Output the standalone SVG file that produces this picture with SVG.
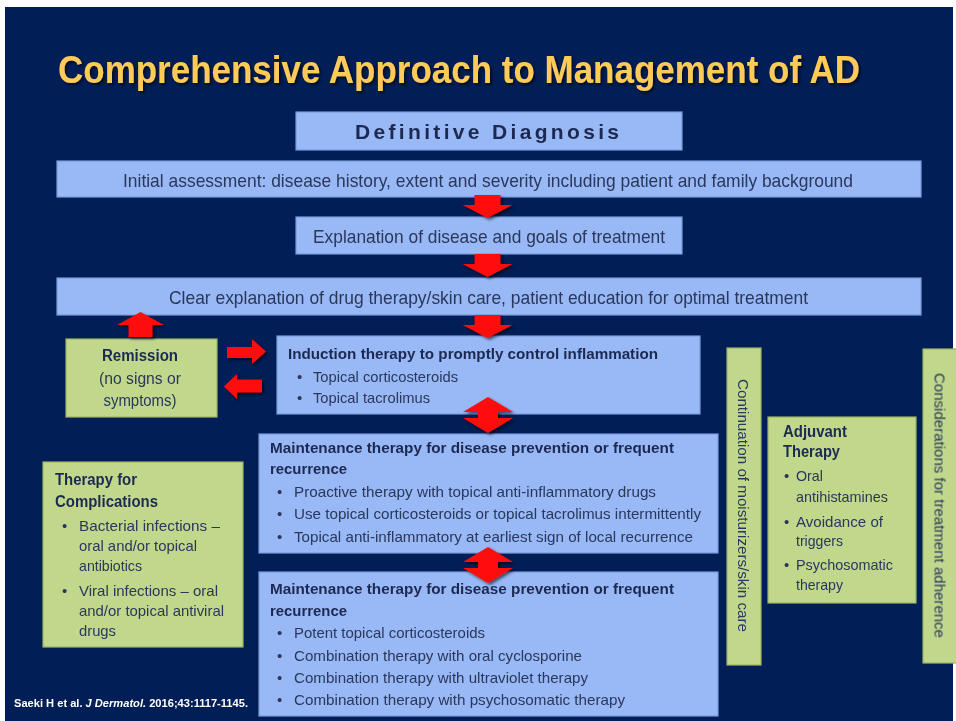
<svg xmlns="http://www.w3.org/2000/svg" width="956" height="721" viewBox="0 0 956 721">
  <defs>
    <style>
      .bg { fill: #021E56; }
      .blue { fill: #98B8F6; stroke: #7B9BDB; stroke-width: 1.2; }
      .green { fill: #C1D88C; stroke: #9BB462; stroke-width: 1.2; }
      .title { font-family: "Liberation Sans", Arial, sans-serif; font-weight: bold; font-size: 39px; fill: #FFCB58; }
      .t { font-family: "Liberation Sans", Arial, sans-serif; font-size: 15px; fill: #2A375B; }
      .big { font-size: 19px; }
      .g16 { font-size: 16px; }
      .head { font-size: 21px; }
      .b { font-weight: bold; fill: #1D2A52; }
      .mid { text-anchor: middle; }
      .cite { font-family: "Liberation Sans", Arial, sans-serif; font-size: 11.5px; font-weight: bold; fill: #FFFFFF; }
      .arrow { fill: #FF0A0A; }
    </style>
    <filter id="shadow" x="-20%" y="-20%" width="150%" height="160%">
      <feGaussianBlur in="SourceAlpha" stdDeviation="1.5"/>
      <feOffset dx="2" dy="2" result="s"/>
      <feComponentTransfer><feFuncA type="linear" slope="0.6"/></feComponentTransfer>
      <feMerge><feMergeNode/><feMergeNode in="SourceGraphic"/></feMerge>
    </filter>
    <filter id="soft" x="-5%" y="-5%" width="110%" height="110%">
      <feGaussianBlur stdDeviation="0.35"/>
    </filter>
    <!-- arrow shapes drawn at origin (top centre), positioned with <use> -->
    <polygon id="down" points="-13,0 13,0 13,10 25,10 0,23 -25,10 -13,10"/>
    <polygon id="dbl" points="0,0 25,15 10,15 10,21 25,21 0,36 -25,21 -10,21 -10,15 -25,15"/>
  </defs>

  <rect x="0" y="0" width="956" height="721" fill="#FFFFFF"/>
  <rect class="bg" x="5" y="7" width="948" height="714"/>

  <text class="title" x="58" y="83" textLength="802" lengthAdjust="spacingAndGlyphs" filter="url(#shadow)">Comprehensive Approach to Management of AD</text>

  <g filter="url(#soft)">
  <g id="diagnosis">
    <rect class="blue" x="296" y="112" width="386" height="38"/>
    <text class="t head b mid" x="487" y="139" textLength="264" lengthAdjust="spacing">Definitive Diagnosis</text>
  </g>

  <g id="assessment">
    <rect class="blue" x="57" y="161" width="864" height="36"/>
    <text class="t big" x="123" y="187" textLength="730" lengthAdjust="spacingAndGlyphs">Initial assessment: disease history, extent and severity including patient and family background</text>
  </g>

  <g id="explanation">
    <rect class="blue" x="296" y="217" width="386" height="37"/>
    <text class="t big" x="313" y="243" textLength="352" lengthAdjust="spacingAndGlyphs">Explanation of disease and goals of treatment</text>
  </g>

  <g id="education">
    <rect class="blue" x="57" y="278" width="864" height="37"/>
    <text class="t big" x="169" y="304" textLength="639" lengthAdjust="spacingAndGlyphs">Clear explanation of drug therapy/skin care, patient education for optimal treatment</text>
  </g>

  <g id="remission">
    <rect class="green" x="66" y="339" width="151" height="78"/>
    <text class="t g16 b mid" x="140" y="361" textLength="76" lengthAdjust="spacingAndGlyphs">Remission</text>
    <text class="t g16 mid" x="140" y="384" textLength="82" lengthAdjust="spacingAndGlyphs">(no signs or</text>
    <text class="t g16 mid" x="140" y="406" textLength="73" lengthAdjust="spacingAndGlyphs">symptoms)</text>
  </g>

  <g id="induction">
    <rect class="blue" x="277" y="336" width="423" height="78"/>
    <text class="t b" x="288" y="359" textLength="370" lengthAdjust="spacingAndGlyphs">Induction therapy to promptly control inflammation</text>
    <text class="t" x="297" y="382">•</text>
    <text class="t" x="313" y="382" textLength="145" lengthAdjust="spacingAndGlyphs">Topical corticosteroids</text>
    <text class="t" x="297" y="403">•</text>
    <text class="t" x="313" y="403" textLength="117" lengthAdjust="spacingAndGlyphs">Topical tacrolimus</text>
  </g>

  <g id="maintenance-proactive">
    <rect class="blue" x="259" y="434" width="459" height="119"/>
    <text class="t b" x="270" y="453" textLength="404" lengthAdjust="spacingAndGlyphs">Maintenance therapy for disease prevention or frequent</text>
    <text class="t b" x="270" y="474" textLength="77" lengthAdjust="spacingAndGlyphs">recurrence</text>
    <text class="t" x="277" y="497">•</text>
    <text class="t" x="294" y="497" textLength="362" lengthAdjust="spacingAndGlyphs">Proactive therapy with topical anti-inflammatory drugs</text>
    <text class="t" x="277" y="519">•</text>
    <text class="t" x="294" y="519" textLength="407" lengthAdjust="spacingAndGlyphs">Use topical corticosteroids or topical tacrolimus intermittently</text>
    <text class="t" x="277" y="542">•</text>
    <text class="t" x="294" y="542" textLength="399" lengthAdjust="spacingAndGlyphs">Topical anti-inflammatory at earliest sign of local recurrence</text>
  </g>

  <g id="maintenance-intensive">
    <rect class="blue" x="259" y="572" width="459" height="144"/>
    <text class="t b" x="270" y="594" textLength="404" lengthAdjust="spacingAndGlyphs">Maintenance therapy for disease prevention or frequent</text>
    <text class="t b" x="270" y="616" textLength="77" lengthAdjust="spacingAndGlyphs">recurrence</text>
    <text class="t" x="277" y="638">•</text>
    <text class="t" x="294" y="638" textLength="191" lengthAdjust="spacingAndGlyphs">Potent topical corticosteroids</text>
    <text class="t" x="277" y="661">•</text>
    <text class="t" x="294" y="661" textLength="288" lengthAdjust="spacingAndGlyphs">Combination therapy with oral cyclosporine</text>
    <text class="t" x="277" y="683">•</text>
    <text class="t" x="294" y="683" textLength="294" lengthAdjust="spacingAndGlyphs">Combination therapy with ultraviolet therapy</text>
    <text class="t" x="277" y="705">•</text>
    <text class="t" x="294" y="705" textLength="331" lengthAdjust="spacingAndGlyphs">Combination therapy with psychosomatic therapy</text>
  </g>

  <g id="complications">
    <rect class="green" x="43" y="462" width="200" height="185"/>
    <text class="t g16 b" x="55" y="485" textLength="82" lengthAdjust="spacingAndGlyphs">Therapy for</text>
    <text class="t g16 b" x="55" y="507" textLength="103" lengthAdjust="spacingAndGlyphs">Complications</text>
    <text class="t" x="62" y="531">•</text>
    <text class="t" x="79" y="531" textLength="141" lengthAdjust="spacingAndGlyphs">Bacterial infections –</text>
    <text class="t" x="79" y="551" textLength="118" lengthAdjust="spacingAndGlyphs">oral and/or topical</text>
    <text class="t" x="79" y="571" textLength="63" lengthAdjust="spacingAndGlyphs">antibiotics</text>
    <text class="t" x="62" y="596">•</text>
    <text class="t" x="79" y="596" textLength="139" lengthAdjust="spacingAndGlyphs">Viral infections – oral</text>
    <text class="t" x="79" y="616" textLength="145" lengthAdjust="spacingAndGlyphs">and/or topical antiviral</text>
    <text class="t" x="79" y="636" textLength="37" lengthAdjust="spacingAndGlyphs">drugs</text>
  </g>

  <g id="moisturizers">
    <rect class="green" x="727" y="348" width="34" height="317"/>
    <text class="t mid" transform="translate(743,505.5) rotate(90)" x="0" y="5" textLength="253" lengthAdjust="spacingAndGlyphs">Continuation of moisturizers/skin care</text>
  </g>

  <g id="adjuvant">
    <rect class="green" x="768" y="417" width="148" height="186"/>
    <text class="t g16 b" x="783" y="437" textLength="64" lengthAdjust="spacingAndGlyphs">Adjuvant</text>
    <text class="t g16 b" x="783" y="457" textLength="57" lengthAdjust="spacingAndGlyphs">Therapy</text>
    <text class="t" x="784" y="481">•</text>
    <text class="t" x="796" y="481" textLength="27" lengthAdjust="spacingAndGlyphs">Oral</text>
    <text class="t" x="796" y="502" textLength="92" lengthAdjust="spacingAndGlyphs">antihistamines</text>
    <text class="t" x="784" y="527">•</text>
    <text class="t" x="796" y="527" textLength="87" lengthAdjust="spacingAndGlyphs">Avoidance of</text>
    <text class="t" x="796" y="546" textLength="47" lengthAdjust="spacingAndGlyphs">triggers</text>
    <text class="t" x="784" y="570">•</text>
    <text class="t" x="796" y="570" textLength="97" lengthAdjust="spacingAndGlyphs">Psychosomatic</text>
    <text class="t" x="796" y="590" textLength="47" lengthAdjust="spacingAndGlyphs">therapy</text>
  </g>

  <g id="adherence">
    <rect class="green" x="923" y="349" width="34" height="314"/>
    <text class="t mid" transform="translate(939.5,505.5) rotate(90)" x="0" y="5" textLength="265" lengthAdjust="spacingAndGlyphs">Considerations for treatment adherence</text>
  </g>
  </g>

  <g id="connectors" filter="url(#shadow)">
    <use href="#down" class="arrow" x="487.5" y="195"/>
    <use href="#down" class="arrow" x="487.5" y="254"/>
    <use href="#down" class="arrow" x="487.5" y="315"/>
    <use href="#dbl" class="arrow" x="488" y="397"/>
    <use href="#dbl" class="arrow" x="488" y="547"/>
    <!-- remission loop back to education -->
    <polygon class="arrow" points="140.5,312 164,325 152.5,325 152.5,337 128.5,337 128.5,325 117,325"/>
    <!-- remission <-> induction -->
    <polygon class="arrow" points="227,347 252,347 252,339 266,351.5 252,364 252,358 227,358"/>
    <polygon class="arrow" points="262,379.5 237,379.5 237,374 224,386.5 237,399 237,392.5 262,392.5"/>
  </g>

  <text class="cite" x="14" y="707" textLength="234" lengthAdjust="spacingAndGlyphs">Saeki H et al. <tspan font-style="italic">J Dermatol.</tspan> 2016;43:1117-1145.</text>
</svg>
